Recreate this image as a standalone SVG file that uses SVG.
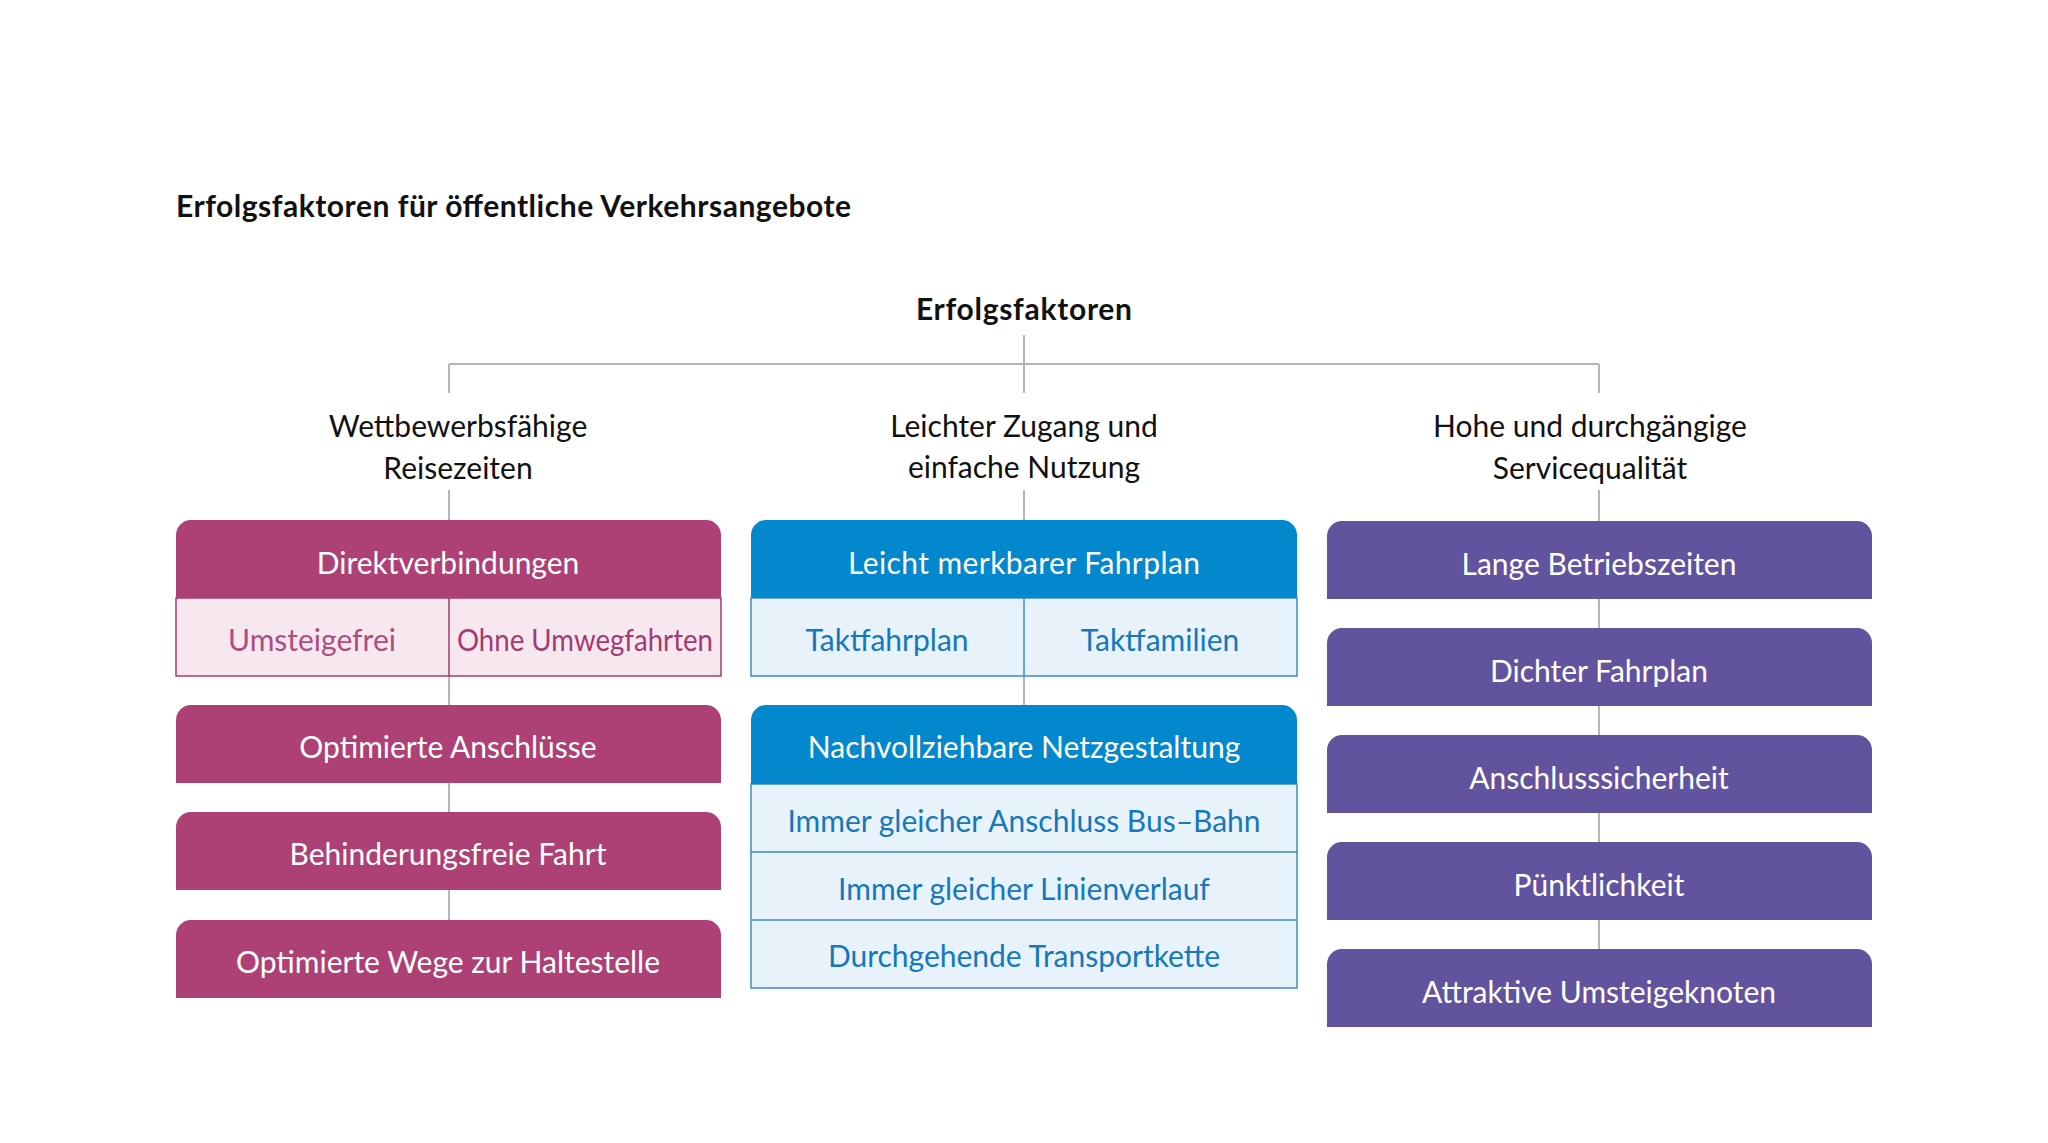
<svg xmlns="http://www.w3.org/2000/svg" width="2048" height="1143" viewBox="0 0 2048 1143">
<style>
text{font-family:Lato,"Open Sans","Liberation Sans",sans-serif;font-size:30px}
.t{fill:#111;text-anchor:middle}
.b{font-weight:bold}
.w{fill:#fff;text-anchor:middle}
.mt{fill:#a33a73;text-anchor:middle}
.bt{fill:#1578bd;text-anchor:middle}
.mag{fill:#ad4176}
.blu{fill:#0387cd}
.pur{fill:#62539f}
.mlt{fill:#f7e8f0;stroke:#a33a73;stroke-width:1.5}
.blt{fill:#e8f2fb;stroke:#3a8fc4;stroke-width:1.5}
.con{stroke:#b5b5b5;stroke-width:2;fill:none}
</style>
<rect width="2048" height="1143" fill="#fff"/>
<text id="title" x="176" y="217" class="b" style="fill:#111" textLength="675">Erfolgsfaktoren für öffentliche Verkehrsangebote</text>
<g id="connectors">
<path class="con" d="M1024,335V364M449,364H1599M449,364V393M1024,364V393M1599,364V393M449,490V520M1024,490V520M1599,490V521M449,676V705M449,783V812M449,890V920M1024,676V705M1599,599V628M1599,706V735M1599,813V842M1599,920V949"/>
</g>
<g id="root"><text x="1024" y="320" class="t b" textLength="216">Erfolgsfaktoren</text></g>
<g id="cat1"><text x="458" y="437" class="t">Wettbewerbsfähige</text><text x="458" y="479" class="t">Reisezeiten</text></g>
<g id="cat2"><text x="1024" y="437" class="t">Leichter Zugang und</text><text x="1024" y="478" class="t">einfache Nutzung</text></g>
<g id="cat3"><text x="1590" y="437" class="t">Hohe und durchgängige</text><text x="1590" y="479" class="t">Servicequalität</text></g>

<g id="direkt">
<path class="mlt" d="M176,598H721V676H176Z M449,598V676"/>
<path class="mag" d="M176,598V535a15,15 0 0 1 15,-15H706a15,15 0 0 1 15,15V598Z"/>
<text x="448" y="574" class="w">Direktverbindungen</text>
<text x="312" y="651" class="mt" style="fill:#ad4d80">Umsteigefrei</text>
<text x="585" y="651" class="mt" textLength="256" lengthAdjust="spacingAndGlyphs">Ohne Umwegfahrten</text>
</g>
<g id="anschluesse"><path class="mag" d="M176,783V720a15,15 0 0 1 15,-15H706a15,15 0 0 1 15,15V783Z"/><text x="448" y="758" class="w">Optimierte Anschlüsse</text></g>
<g id="behinderung"><path class="mag" d="M176,890V827a15,15 0 0 1 15,-15H706a15,15 0 0 1 15,15V890Z"/><text x="448" y="865" class="w">Behinderungsfreie Fahrt</text></g>
<g id="wege"><path class="mag" d="M176,998V935a15,15 0 0 1 15,-15H706a15,15 0 0 1 15,15V998Z"/><text x="448" y="973" class="w">Optimierte Wege zur Haltestelle</text></g>

<g id="fahrplan">
<path class="blt" d="M751,598H1297V676H751Z M1024,598V676"/>
<path class="blu" d="M751,598V535a15,15 0 0 1 15,-15H1282a15,15 0 0 1 15,15V598Z"/>
<text x="1024" y="574" class="w" textLength="352">Leicht merkbarer Fahrplan</text>
<text x="887" y="651" class="bt">Taktfahrplan</text>
<text x="1160" y="651" class="bt">Taktfamilien</text>
</g>
<g id="netz">
<path class="blt" d="M751,784H1297V988H751Z M751,852H1297 M751,920H1297"/>
<path class="blu" d="M751,784V720a15,15 0 0 1 15,-15H1282a15,15 0 0 1 15,15V784Z"/>
<text x="1024" y="758" class="w">Nachvollziehbare Netzgestaltung</text>
<text x="1024" y="832" class="bt">Immer gleicher Anschluss Bus–Bahn</text>
<text x="1024" y="900" class="bt">Immer gleicher Linienverlauf</text>
<text x="1024" y="967" class="bt">Durchgehende Transportkette</text>
</g>

<g id="betrieb"><path class="pur" d="M1327,599V536a15,15 0 0 1 15,-15H1857a15,15 0 0 1 15,15V599Z"/><text x="1599" y="575" class="w">Lange Betriebszeiten</text></g>
<g id="dichter"><path class="pur" d="M1327,706V643a15,15 0 0 1 15,-15H1857a15,15 0 0 1 15,15V706Z"/><text x="1599" y="682" class="w">Dichter Fahrplan</text></g>
<g id="sicherheit"><path class="pur" d="M1327,813V750a15,15 0 0 1 15,-15H1857a15,15 0 0 1 15,15V813Z"/><text x="1599" y="789" class="w">Anschlusssicherheit</text></g>
<g id="puenktlich"><path class="pur" d="M1327,920V857a15,15 0 0 1 15,-15H1857a15,15 0 0 1 15,15V920Z"/><text x="1599" y="896" class="w">Pünktlichkeit</text></g>
<g id="knoten"><path class="pur" d="M1327,1027V964a15,15 0 0 1 15,-15H1857a15,15 0 0 1 15,15V1027Z"/><text x="1599" y="1003" class="w">Attraktive Umsteigeknoten</text></g>
</svg>
